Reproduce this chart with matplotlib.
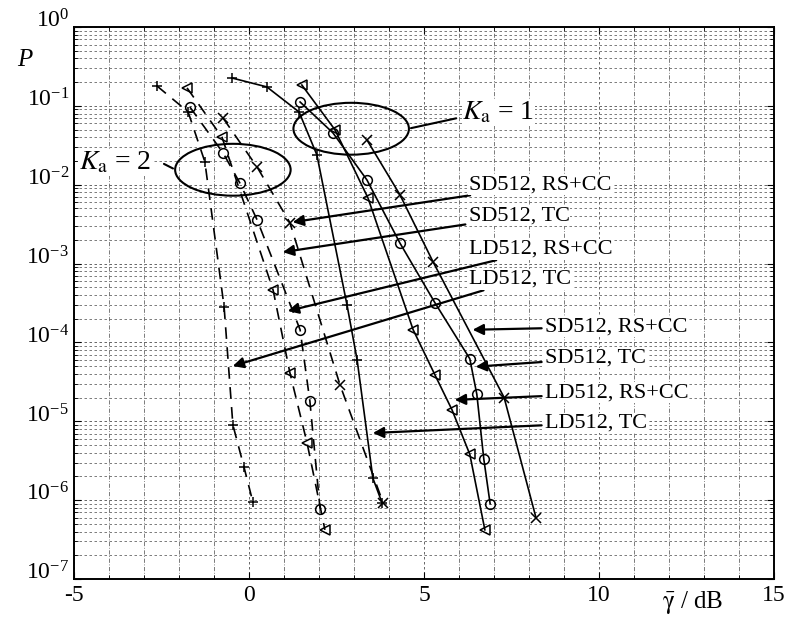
import numpy as np
import matplotlib
matplotlib.use('Agg')
import matplotlib.pyplot as plt
import matplotlib.transforms as mtransforms
from matplotlib.patches import Ellipse
from matplotlib.ticker import MultipleLocator, LogLocator, LogFormatterMathtext

plt.rcParams['font.family'] = ['Liberation Serif', 'DejaVu Serif']
plt.rcParams['mathtext.fontset'] = 'stix'
plt.rcParams['axes.unicode_minus'] = False

# Ka = 1 (solid)
k1_ld_tc_x = [-0.49, 0.51, 1.43, 1.94, 2.80, 3.09, 3.54, 3.80]
k1_ld_tc_p = [0.226, 0.174, 0.0838, 0.0239, 3.0e-4, 6.0e-5, 1.9e-6, 9.3e-7]
k1_ld_rs_x = [1.51, 2.46, 3.40, 4.69, 5.31, 5.80, 6.31, 6.74]
k1_ld_rs_p = [0.184, 0.0495, 6.8e-3, 1.45e-4, 3.9e-5, 1.4e-5, 3.8e-6, 4.2e-7]
k1_sd_tc_x = [1.46, 2.40, 3.37, 4.31, 5.31, 6.31, 6.51, 6.71, 6.89]
k1_sd_tc_p = [0.112, 0.0454, 0.0115, 1.83e-3, 3.2e-4, 6.2e-5, 2.2e-5, 3.3e-6, 9.0e-7]
k1_sd_rs_x = [3.37, 4.31, 5.26, 7.29, 8.2]
k1_sd_rs_p = [0.037, 7.5e-3, 1.05e-3, 2.0e-5, 6.0e-7]

# Ka = 2 (dashed)
k2_ld_tc_x = [-2.63, -1.74, -1.26, -0.71, -0.46, -0.14, 0.11]
k2_ld_tc_p = [0.179, 0.084, 0.0195, 2.8e-4, 9.0e-6, 2.6e-6, 9.5e-7]
k2_ld_rs_x = [-1.77, -0.77, 0.69, 1.17, 1.66, 2.17]
k2_ld_rs_p = [0.169, 0.040, 4.6e-4, 4.1e-5, 5.3e-6, 4.2e-7]
k2_sd_tc_x = [-1.69, -0.74, -0.26, 0.23, 1.46, 1.74, 2.03]
k2_sd_tc_p = [0.097, 0.0253, 0.0105, 3.6e-3, 1.45e-4, 1.8e-5, 7.8e-7]
k2_sd_rs_x = [-0.74, 0.23, 1.17, 2.60, 3.83]
k2_sd_rs_p = [0.070, 0.0168, 3.3e-3, 2.9e-5, 9.3e-7]

labels = ['SD512, RS+CC', 'SD512, TC', 'LD512, RS+CC', 'LD512, TC']

fig = plt.figure(figsize=(7.93, 6.17), dpi=100)
ax = fig.add_axes([0.0933, 0.0616, 0.8827, 0.8946])

mk = dict(color='k', lw=1.2, mfc='none', mec='k', ms=7, mew=1.1)
ax.plot(k1_sd_rs_x, k1_sd_rs_p, ls='-', marker='x', **mk)
ax.plot(k1_sd_tc_x, k1_sd_tc_p, ls='-', marker='o', **mk)
ax.plot(k1_ld_rs_x, k1_ld_rs_p, ls='-', marker='<', **mk)
ax.plot(k1_ld_tc_x, k1_ld_tc_p, ls='-', marker='+', **mk)

dash = (0, (7, 5))
ax.plot(k2_sd_rs_x, k2_sd_rs_p, ls=dash, marker='x', **mk)
ax.plot(k2_sd_tc_x, k2_sd_tc_p, ls=dash, marker='o', **mk)
ax.plot(k2_ld_rs_x, k2_ld_rs_p, ls=dash, marker='<', **mk)
ax.plot(k2_ld_tc_x, k2_ld_tc_p, ls=dash, marker='+', **mk)

ax.set_yscale('log')
ax.set_xlim(-5, 15)
ax.set_ylim(1e-7, 1)
ax.xaxis.set_major_locator(MultipleLocator(5))
ax.xaxis.set_minor_locator(MultipleLocator(1))
ax.yaxis.set_major_locator(LogLocator(base=10, numticks=10))
ax.yaxis.set_minor_locator(LogLocator(base=10, subs=np.arange(2, 10), numticks=20))
ax.yaxis.set_major_formatter(LogFormatterMathtext())
ax.tick_params(which='both', direction='in', top=True, right=True, labelsize=17)
ax.tick_params(axis='x', pad=4)
ax.tick_params(which='major', length=5)
ax.tick_params(which='minor', length=3)
ax.grid(True, which='major', ls=(0, (3, 3)), lw=0.6, color='0.3')
ax.grid(True, which='minor', axis='y', ls=(0, (3, 3)), lw=0.6, color='0.4')
ax.grid(True, which='minor', axis='x', ls=(0, (5, 2, 1, 2)), lw=0.6, color='0.4')
for s in ax.spines.values():
    s.set_linewidth(1.4)

# y labels sit a little above their ticks
shift = mtransforms.ScaledTranslation(0, 6 / 72, fig.dpi_scale_trans)
for lab in ax.get_yticklabels():
    lab.set_transform(lab.get_transform() + shift)

ax.text(-0.07, 0.94, 'P', transform=ax.transAxes, fontsize=18, style='italic',
        ha='center', va='center')
ax.text(0.884, -0.043, r'$\bar{\mathrm{\gamma}}$ / dB', transform=ax.transAxes, fontsize=18,
        ha='center', va='center')

# ellipses
fig.canvas.draw()
def to_ax(x, p):
    return ax.transAxes.inverted().transform(ax.transData.transform((x, p)))

c2 = to_ax(-0.46, 10**-1.81)
c1 = to_ax(2.92, 10**-1.29)
for c in (c1, c2):
    ax.add_patch(Ellipse(c, 0.165, 0.094, transform=ax.transAxes, fill=False, ec='k', lw=1.5, zorder=5))

bbox = dict(facecolor='white', edgecolor='none', pad=0.5)
ax.text(-4.85, 10**-1.72, r'$K_\mathrm{a}$ = 2', fontsize=20, va='center', ha='left', bbox=bbox, zorder=6)
ax.annotate('', xy=(-2.1, 10**-1.81), xytext=(-2.5, 10**-1.72),
            arrowprops=dict(arrowstyle='-', lw=1.5, color='k'))
ax.text(6.1, 10**-1.08, r'$K_\mathrm{a}$ = 1', fontsize=20, va='center', ha='left', bbox=bbox, zorder=6)
ax.annotate('', xy=(4.55, 10**-1.29), xytext=(6.0, 10**-1.15),
            arrowprops=dict(arrowstyle='-', lw=1.5, color='k'))

ap = dict(arrowstyle='-|>', lw=1.6, color='k', mutation_scale=16)
# Ka = 2 labels
k2_text_y = [10**-2.0, 10**-2.4, 10**-2.82, 10**-3.2]
k2_tip = [(1.17, 10**-2.48), (0.89, 10**-2.86), (1.03, 10**-3.61), (-0.54, 10**-4.31)]
for lab, ty, tip in zip(labels, k2_text_y, k2_tip):
    ax.annotate(lab, xy=tip, xytext=(6.28, ty), fontsize=16, va='center', ha='left',
                bbox=bbox, arrowprops=ap, zorder=6)
# Ka = 1 labels
k1_text_y = [10**-3.8, 10**-4.2, 10**-4.64, 10**-5.02]
k1_tip = [(6.31, 10**-3.84), (6.4, 10**-4.31), (5.8, 10**-4.73), (3.46, 10**-5.15)]
for lab, ty, tip in zip(labels, k1_text_y, k1_tip):
    ax.annotate(lab, xy=tip, xytext=(8.46, ty), fontsize=16, va='center', ha='left',
                bbox=bbox, arrowprops=ap, zorder=6)

fig.savefig('out.png', dpi=100)
